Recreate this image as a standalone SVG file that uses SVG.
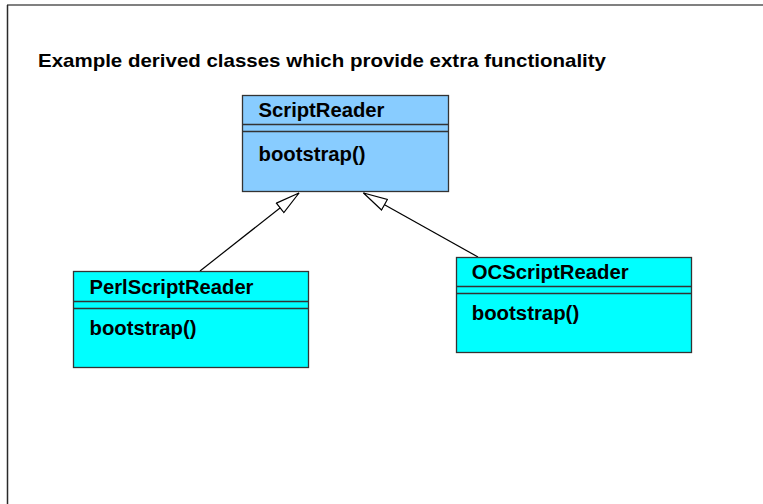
<svg xmlns="http://www.w3.org/2000/svg" width="763" height="504" viewBox="0 0 763 504">
  <defs>
    <style>
      .box { stroke: #333333; stroke-width: 1.3; }
      .sep { stroke: #333333; stroke-width: 1.3; }
      .lbl { font-family: "Liberation Sans", Arial, sans-serif; font-weight: bold; font-size: 19.5px; fill: #000000; }
      .title { font-family: "Liberation Sans", Arial, sans-serif; font-weight: bold; font-size: 18.5px; fill: #000000; }
      .edge { stroke: #000000; stroke-width: 1.2; fill: none; }
    </style>
    <marker id="inherit" viewBox="0 0 26 14" refX="25" refY="7" markerWidth="26" markerHeight="14" markerUnits="userSpaceOnUse" orient="auto">
      <path d="M1,1 L25,7 L1,13 Z" fill="#ffffff" stroke="#000000" stroke-width="1.2"/>
    </marker>
  </defs>

  <rect x="0" y="0" width="763" height="504" fill="#ffffff"/>

  <!-- page frame -->
  <line x1="7" y1="5" x2="763" y2="5" stroke="#808080" stroke-width="2"/>
  <line x1="7.5" y1="5" x2="7.5" y2="504" stroke="#2a2a2a" stroke-width="1.5"/>

  <text class="title" x="38" y="66.5" textLength="568" lengthAdjust="spacingAndGlyphs">Example derived classes which provide extra functionality</text>

  <g id="connectors">
    <line class="edge" x1="200" y1="271" x2="299" y2="193" marker-end="url(#inherit)"/>
    <line class="edge" x1="478" y1="257" x2="363.5" y2="193" marker-end="url(#inherit)"/>
  </g>

  <g id="ScriptReader">
    <rect class="box" x="242.5" y="95.5" width="206" height="96" fill="#88ccff"/>
    <line class="sep" x1="242.5" y1="124.5" x2="448.5" y2="124.5"/>
    <line class="sep" x1="242.5" y1="131.5" x2="448.5" y2="131.5"/>
    <text class="lbl" x="258.5" y="117.3" textLength="126" lengthAdjust="spacingAndGlyphs">ScriptReader</text>
    <text class="lbl" x="258.5" y="160.5" textLength="107" lengthAdjust="spacingAndGlyphs">bootstrap()</text>
  </g>

  <g id="PerlScriptReader">
    <rect class="box" x="73.5" y="271.5" width="235" height="96" fill="#00ffff"/>
    <line class="sep" x1="73.5" y1="301.5" x2="308.5" y2="301.5"/>
    <line class="sep" x1="73.5" y1="308.5" x2="308.5" y2="308.5"/>
    <text class="lbl" x="89.5" y="294.3" textLength="164" lengthAdjust="spacingAndGlyphs">PerlScriptReader</text>
    <text class="lbl" x="89.5" y="335" textLength="107" lengthAdjust="spacingAndGlyphs">bootstrap()</text>
  </g>

  <g id="OCScriptReader">
    <rect class="box" x="456.5" y="257.5" width="235" height="95" fill="#00ffff"/>
    <line class="sep" x1="456.5" y1="286.5" x2="691.5" y2="286.5"/>
    <line class="sep" x1="456.5" y1="293.5" x2="691.5" y2="293.5"/>
    <text class="lbl" x="471.7" y="279.3" textLength="157" lengthAdjust="spacingAndGlyphs">OCScriptReader</text>
    <text class="lbl" x="471.7" y="320" textLength="107.5" lengthAdjust="spacingAndGlyphs">bootstrap()</text>
  </g>
</svg>
